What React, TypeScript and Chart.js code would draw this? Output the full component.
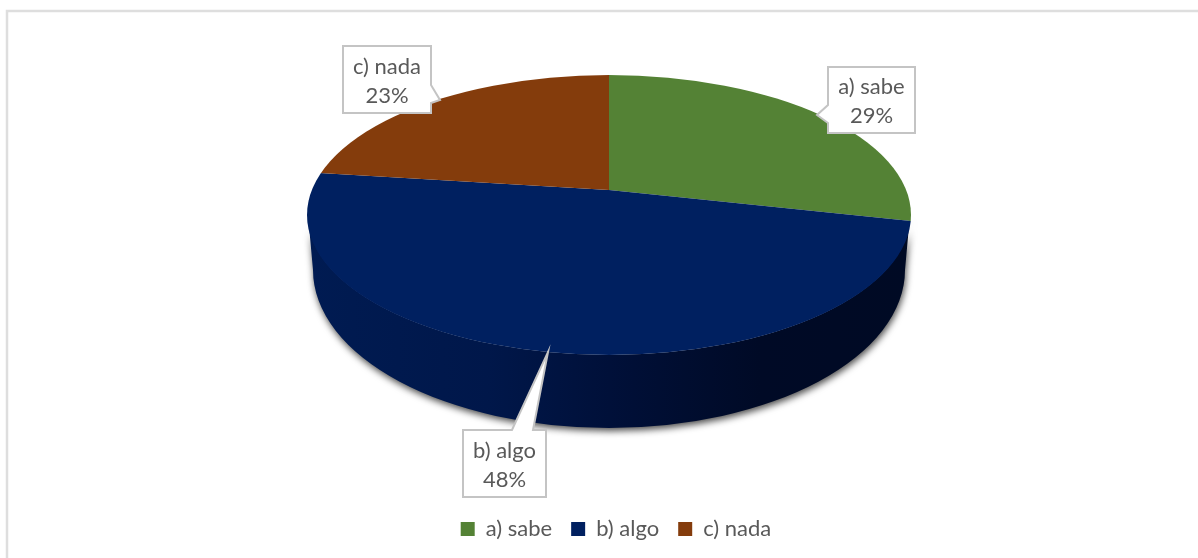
import React, { useEffect, useRef } from "react";
import { Chart, registerables } from "chart.js";

Chart.register(...registerables);

const categories = ["a) sabe", "b) algo", "c) nada"];
const shares = [29, 48, 23];
const sliceColors = ["#548235", "#002060", "#843C0C"];
const percentLabels = ["29%", "48%", "23%"];

const FONT = 'Lato, "Open Sans", sans-serif';
const FONT_SIZE = 22;
// perspective look: the apex of the slices sits above the centre of the rim
const APEX_X = 609;
const APEX_Y = 190;
const RIM_CY = 215;
const RIM_RX = 302;
const RIM_RY = 140;
const BASE_CY = 270;
const BASE_RX = 296;
const BASE_RY = 158;
// pie flattening: sy/sx ratio and shear fitted to the picture
const Q = 0.3356;
const SHEAR = 0.0164;
const REACH = 540;

// label box [x, y, w, h] and callout tip + base points
const callouts = [
  { box: [828, 67, 87, 66], tip: [817, 115], a: [828, 105], b: [828, 123], side: "left" },
  { box: [463, 430, 83, 67], tip: [548, 352], a: [512, 430], b: [533, 430], side: "top" },
  { box: [343, 46, 88, 67], tip: [440, 100], a: [431, 85], b: [431, 103], side: "right" },
];

function calloutPath(ctx: CanvasRenderingContext2D, c: (typeof callouts)[number]) {
  const [x, y, w, h] = c.box;
  ctx.beginPath();
  ctx.moveTo(x, y);
  if (c.side === "top") {
    ctx.lineTo(c.a[0], y);
    ctx.lineTo(c.tip[0], c.tip[1]);
    ctx.lineTo(c.b[0], y);
  }
  ctx.lineTo(x + w, y);
  if (c.side === "right") {
    ctx.lineTo(x + w, c.a[1]);
    ctx.lineTo(c.tip[0], c.tip[1]);
    ctx.lineTo(x + w, c.b[1]);
  }
  ctx.lineTo(x + w, y + h);
  ctx.lineTo(x, y + h);
  if (c.side === "left") {
    ctx.lineTo(x, c.b[1]);
    ctx.lineTo(c.tip[0], c.tip[1]);
    ctx.lineTo(x, c.a[1]);
  }
  ctx.closePath();
}

const pie3d = {
  id: "pie3d",
  beforeDraw(chart: Chart) {
    const ctx = chart.ctx;
    ctx.save();
    ctx.fillStyle = "#ffffff";
    ctx.fillRect(0, 0, chart.width, chart.height);
    ctx.strokeStyle = "#dedede";
    ctx.lineWidth = 2.5;
    ctx.beginPath();
    ctx.moveTo(7, 558);
    ctx.lineTo(7, 11);
    ctx.lineTo(1198, 11);
    ctx.stroke();
    ctx.restore();
  },
  beforeDatasetsDraw(chart: Chart) {
    const ctx = chart.ctx;
    const arc: any = chart.getDatasetMeta(0).data[0];
    // extruded side wall, with the soft shadow below it
    ctx.save();
    ctx.shadowColor = "rgba(0,0,0,0.7)";
    ctx.shadowBlur = 7;
    ctx.shadowOffsetX = 1;
    ctx.shadowOffsetY = 3;
    const grad = ctx.createLinearGradient(APEX_X - RIM_RX, 0, APEX_X + RIM_RX, 0);
    grad.addColorStop(0, "#001b52");
    grad.addColorStop(0.3, "#00174a");
    grad.addColorStop(0.5, "#001039");
    grad.addColorStop(0.75, "#000a26");
    grad.addColorStop(1, "#000a24");
    ctx.fillStyle = grad;
    ctx.beginPath();
    ctx.ellipse(APEX_X, BASE_CY, BASE_RX, BASE_RY, 0, 0, Math.PI);
    ctx.lineTo(APEX_X - RIM_RX + 1, RIM_CY);
    ctx.ellipse(APEX_X, RIM_CY, RIM_RX - 1, RIM_RY, 0, Math.PI, 0, true);
    ctx.closePath();
    ctx.fill();
    ctx.restore();
    // flatten the library's circular pie, and cut it along the perspective rim
    const sx = REACH / arc.outerRadius;
    ctx.save();
    ctx.beginPath();
    ctx.ellipse(APEX_X, RIM_CY, RIM_RX, RIM_RY, 0, 0, Math.PI * 2);
    ctx.clip();
    ctx.translate(APEX_X, APEX_Y);
    ctx.transform(sx, SHEAR * sx, 0, Q * sx, 0, 0);
    ctx.translate(-arc.x, -arc.y);
  },
  afterDatasetsDraw(chart: Chart) {
    const ctx = chart.ctx;
    ctx.restore();
    ctx.save();
    ctx.font = `${FONT_SIZE}px ${FONT}`;
    ctx.textAlign = "center";
    ctx.textBaseline = "middle";
    callouts.forEach((c, i) => {
      calloutPath(ctx, c);
      ctx.fillStyle = "#ffffff";
      ctx.fill();
      ctx.strokeStyle = "#c4c4c4";
      ctx.lineWidth = 2;
      ctx.stroke();
      const [x, y, w, h] = c.box;
      ctx.fillStyle = "#595959";
      ctx.fillText(categories[i], x + w / 2, y + h / 2 - 13);
      ctx.fillText(percentLabels[i], x + w / 2, y + h / 2 + 16);
    });
    ctx.restore();
  },
};

export default function App() {
  const ref = useRef<HTMLCanvasElement>(null);
  useEffect(() => {
    document.body.style.margin = "0";
    const chart = new Chart(ref.current!, {
      type: "pie",
      data: {
        labels: categories,
        datasets: [
          {
            data: shares,
            backgroundColor: sliceColors,
            borderWidth: 0,
          },
        ],
      },
      options: {
        responsive: false,
        animation: false,
        layout: { padding: { bottom: 8, left: 34 } },
        plugins: {
          tooltip: { enabled: false },
          legend: {
            position: "bottom",
            labels: {
              boxWidth: 14,
              boxHeight: 14,
              padding: 19,
              color: "#595959",
              font: { family: FONT, size: FONT_SIZE },
            },
          },
        },
      },
      plugins: [pie3d],
    });
    return () => chart.destroy();
  }, []);
  return <canvas ref={ref} width={1198} height={558} style={{ display: "block" }} />;
}
